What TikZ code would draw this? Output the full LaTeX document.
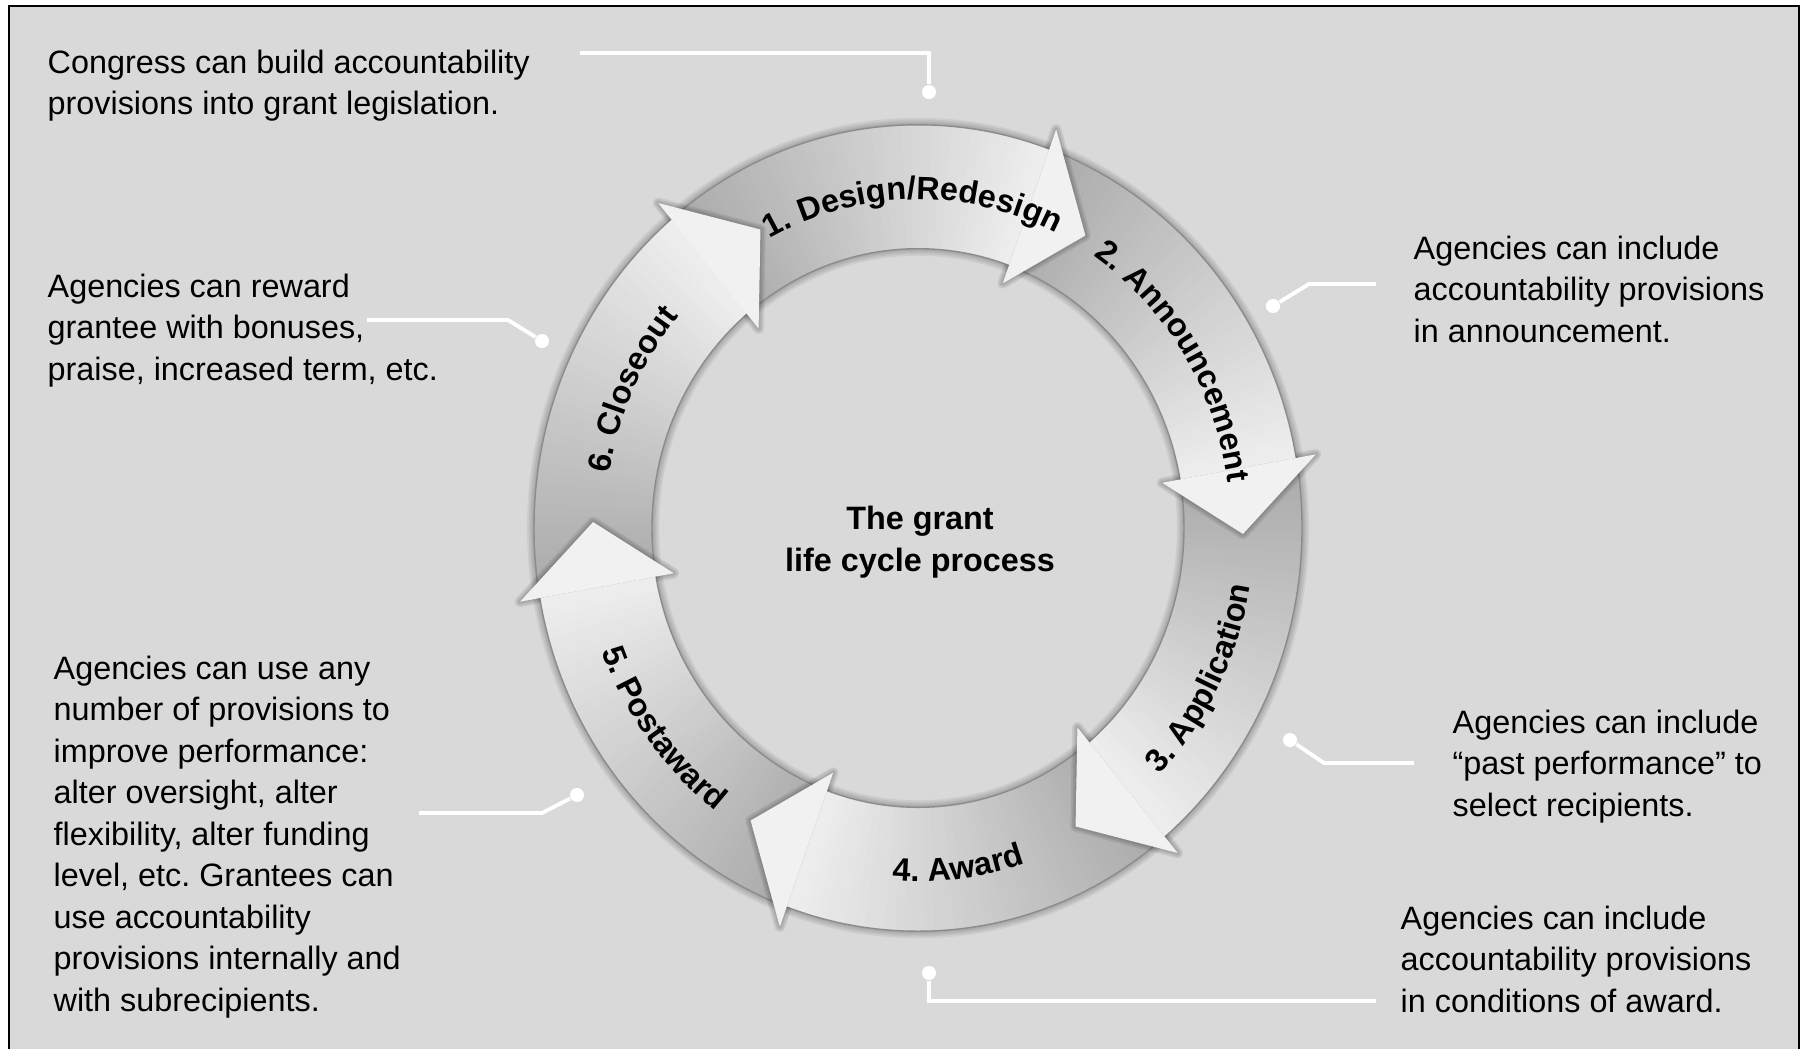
\documentclass[tikz,border=0pt]{standalone}
\usepackage{fontspec}
\setmainfont{Liberation Sans}
\usetikzlibrary{decorations.text}
\frenchspacing

\definecolor{panel}{HTML}{D9D9D9}
\definecolor{bodydark}{HTML}{AAAAAA}
\definecolor{bodylite}{HTML}{EFEFEF}
\definecolor{headfill}{HTML}{F1F1F1}

\tikzset{
  annot/.style={anchor=north west, inner sep=0pt, align=left,
    font=\fontsize{9.2}{11.8}\selectfont},
  leadline/.style={white, line width=1.1pt},
  pindot/.style={circle, fill=white, inner sep=0pt, minimum size=4pt},
  steplabel/.style={decorate, decoration={text along path, text align=center,
    text={|\fontsize{9.2}{11}\selectfont\bfseries|#1}}},
}

\begin{document}
\begin{tikzpicture}[x=0.01cm,y=-0.01cm]
\useasboundingbox (0,0) rectangle (1809,1048);

\fill[white] (0,0) rectangle (1809,1048);
\fill[panel] (9,6) rectangle (1799,1060);
\draw[line width=.6pt] (9,1060) -- (9,6) -- (1799,6) -- (1799,1060);

% the ring of six arrows
\begin{scope}[shift={(918,528)},yscale=-1.05]
  \foreach \w in {4,3,2,1}
    \draw[black,opacity=.06,line width=\w pt] (0,0) circle[radius=384] (0,0) circle[radius=266];

  \foreach \k in {0,...,5}
    \foreach \i in {0,...,39}
    {
      \pgfmathsetmacro\a{130-60*\k-1.5*\i}
      \pgfmathsetmacro\pct{2.5*\i}
      \fill[bodylite!\pct!bodydark] (\a:266) arc[start angle=\a,end angle=\a-2,radius=266]
        -- (\a-2:384) arc[start angle=\a-2,end angle=\a,radius=384] -- cycle;
    }

  \draw[black!45,line width=.4pt] (0,0) circle[radius=384] (0,0) circle[radius=266];

  \foreach \b in {70,10,-50,-110,-170,-230}
  {
    \foreach \w in {3,2,1}
      \draw[black,opacity=.08,line width=\w pt,line join=round]
        (\b:266) -- (\b:248) -- (\b-11:325) -- (\b:404) -- (\b:384);
    \fill[headfill] (\b:248) -- (\b:404) -- (\b-11:325) -- cycle;
  }

  \path[steplabel={1. Design/Redesign}] (129:313) arc[start angle=129,end angle=53,radius=313];
  \path[steplabel={2. Announcement}] (62:313) arc[start angle=62,end angle=2,radius=313];
  \path[steplabel={3. Application}] (-57:337) arc[start angle=-57,end angle=3,radius=337];
  \path[steplabel={4. Award}] (-113:337) arc[start angle=-113,end angle=-53,radius=337];
  \path[steplabel={5. Postaward}] (-173:337) arc[start angle=-173,end angle=-113,radius=337];
  \path[steplabel={6. Closeout}] (185:313) arc[start angle=185,end angle=125,radius=313];
\end{scope}

\node[align=center,font=\fontsize{9.2}{11.9}\selectfont\bfseries] (title) at (920,542)
  {The grant\\life cycle process};

% notes round the ring
\node[annot] (congress) at (47,49) {Congress can build accountability\\provisions into grant legislation.};
\node[annot] (announce) at (1413,235) {Agencies can include\\accountability provisions\\in announcement.};
\node[annot] (reward) at (47,273) {Agencies can reward\\grantee with bonuses,\\praise, increased term, etc.};
\node[annot] (pastperf) at (1452,709) {Agencies can include\\“past performance” to\\select recipients.};
\node[annot] (improve) at (53,655) {Agencies can use any\\number of provisions to\\improve performance:\\alter oversight, alter\\flexibility, alter funding\\level, etc. Grantees can\\use accountability\\provisions internally and\\with subrecipients.};
\node[annot] (conditions) at (1400,905) {Agencies can include\\accountability provisions\\in conditions of award.};

\node[pindot] (d1) at (929,92) {};
\node[pindot] (d2) at (1273,306) {};
\node[pindot] (d3) at (542,341) {};
\node[pindot] (d4) at (1290,740) {};
\node[pindot] (d5) at (577,795) {};
\node[pindot] (d6) at (929,973) {};

\coordinate (c1) at (580,53);
\coordinate (c2) at (1376,284);
\coordinate (c3) at (367,320);
\coordinate (c4) at (1414,763);
\coordinate (c5) at (419,813);
\coordinate (c6) at (1376,1001);

\draw[leadline] (c1) -| (d1);
\draw[leadline] (c2) -- ++(-67,0) -- (d2);
\draw[leadline] (c3) -- ++(141,0) -- (d3);
\draw[leadline] (c4) -- ++(-90,0) -- (d4);
\draw[leadline] (c5) -- ++(123,0) -- (d5);
\draw[leadline] (c6) -| (d6);

\end{tikzpicture}
\end{document}
